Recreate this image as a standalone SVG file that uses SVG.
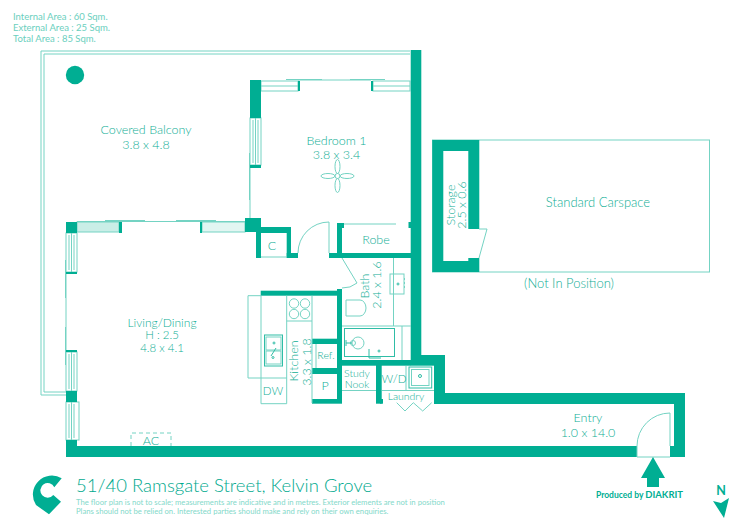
<svg xmlns="http://www.w3.org/2000/svg" width="750" height="530" viewBox="0 0 750 530">
<style>
.w{fill:#00ae93;stroke:none}
.l{fill:none;stroke:#74d3c3;stroke-width:1}
.g{fill:#fff;stroke:#74d3c3;stroke-width:1}
.d{fill:none;stroke:#2fbda6;stroke-width:1}
text{font-family:"Lato","Liberation Sans",sans-serif;font-weight:300;fill:#0fae95;text-anchor:middle;font-size:12.500px}
.s{font-size:9.500px;text-anchor:start;fill:#6bcfbe;font-weight:400}
.f{font-size:7.700px;text-anchor:start;fill:#84d9ca;font-weight:400}
.m{font-size:11.500px}
.n{font-size:11.500px}
</style>
<rect width="750" height="530" fill="#fff"/>
<g id="area-labels">
<text class="s" x="13" y="20">Internal Area : 60 Sqm.</text>
<text class="s" x="13" y="31">External Area : 25 Sqm.</text>
<text class="s" x="13" y="42">Total Area : 85 Sqm.</text>
</g>
<g id="balcony">
<path class="l" d="M410 51H41V395H66M410 54H44V392H66"/>
<circle class="w" cx="75" cy="75" r="9.200"/>
<text x="146" y="134">Covered Balcony</text>
<text x="146" y="149">3.8 x 4.8</text>
</g>
<g id="windows">
<path class="l" d="M298 80H371M77 221.500H245M66 274V350M250 168V218M286 79.500H322M350 79.500H385M105 220.500H145M176 220.500H216M65.500 260V298M65.500 327V365M249.500 153V200"/>
<rect class="g" x="261" y="81" width="37" height="10"/><rect class="g" x="373" y="81" width="37" height="10"/>
<rect class="g" x="250" y="118" width="11" height="47"/>
<rect x="77" y="222" width="42" height="10" fill="#c9eee7" stroke="#74d3c3"/>
<rect x="202" y="222" width="43" height="10" fill="#e2f6f2" stroke="#74d3c3"/>
<rect class="g" x="66" y="233" width="11" height="39"/><rect class="g" x="66" y="352" width="11" height="39"/><rect class="g" x="66" y="402" width="13" height="38"/>
<path class="l" d="M261 86H298M373 86H410M255.500 118V165M71.500 233V272M71.500 352V391M71.500 402V440M253 120V163M258 120V163M69 235V270M74 235V270M69 354V389M74 354V389M69 404V438M74 404V438"/>
</g>
<g id="walls">
<rect class="w" x="410.700" y="50" width="10.600" height="305"/>
<rect class="w" x="342" y="360" width="69" height="5.700"/>
<rect class="w" x="410.700" y="355" width="34.300" height="10.700"/>
<rect class="w" x="434" y="365" width="11" height="39"/>
<rect class="w" x="434" y="393" width="251" height="11"/>
<rect class="w" x="674" y="393" width="11" height="64"/>
<rect class="w" x="670" y="446" width="15" height="11"/>
<rect class="w" x="66" y="446" width="571" height="11"/>
<rect class="w" x="66" y="440" width="11" height="6"/>
<rect class="w" x="66" y="391" width="11" height="11"/>
<rect class="w" x="66" y="222" width="11" height="11"/>
<rect class="w" x="66" y="272" width="11" height="2"/>
<rect class="w" x="66" y="350" width="11" height="2"/>
<rect class="w" x="119" y="222" width="3" height="11"/>
<rect class="w" x="200" y="222" width="2" height="11"/>
<rect class="w" x="245" y="218" width="16" height="14"/>
<rect class="w" x="256" y="227" width="35" height="6"/>
<rect class="w" x="256" y="227" width="5" height="31"/>
<rect class="w" x="286.700" y="227" width="4.300" height="31"/>
<rect class="w" x="286.700" y="253" width="11.300" height="5"/>
<rect class="w" x="250" y="80" width="11" height="38"/>
<rect class="w" x="298" y="81" width="2" height="10"/>
<rect class="w" x="371" y="81" width="2" height="10"/>
<rect class="w" x="250" y="165" width="11" height="3"/>
<rect class="w" x="329" y="253" width="82" height="5"/>
<rect class="w" x="337" y="223" width="5" height="35"/>
<rect class="w" x="337" y="223" width="7" height="5"/>
<rect class="w" x="408.500" y="222" width="3" height="6"/>
<rect class="w" x="337" y="289" width="5" height="114.700"/>
<rect class="w" x="260.700" y="290.700" width="81" height="5"/>
<rect class="w" x="312" y="338.700" width="25" height="5.300"/>
<rect class="w" x="312" y="368" width="25" height="6"/>
<rect class="w" x="312" y="399" width="25" height="4.700"/>
<rect class="w" x="376" y="361" width="5.700" height="42.700"/>
<rect class="w" x="380" y="399" width="3" height="4.700"/>
</g>
<g id="robe">
<path class="l" d="M344 224H396"/>
<text x="376" y="244">Robe</text>
</g>
<g id="bedroom">
<text x="336.500" y="145">Bedroom 1</text>
<text x="336.500" y="159">3.8 x 3.4</text>
<circle class="l" cx="337.500" cy="176" r="2.500"/>
<ellipse class="l" cx="337.500" cy="166.500" rx="2.500" ry="7"/><ellipse class="l" cx="337.500" cy="185.500" rx="2.500" ry="7"/><ellipse class="l" cx="328" cy="176" rx="7" ry="2.500"/><ellipse class="l" cx="347" cy="176" rx="7" ry="2.500"/>
</g>
<g id="closet">
<path class="l" d="M261 257H287M329 222V253M329 222A31 31 0 0 0 298 253"/>
<text x="272" y="250">C</text>
</g>
<g id="bath">
<path class="l" d="M393.500 258V326M342 326H411M402 326V360M342 258L357 283A22 22 0 0 1 342 288"/>
<rect class="l" x="390" y="274" width="14" height="20"/>
<path class="d" d="M404 279H405M404 283H405M404 287H405"/>
<circle class="d" cx="398" cy="284" r="1"/>
<path class="l" d="M346 300H360A6 8 0 0 1 360 316H346Z"/>
<rect class="d" x="344.500" y="328.500" width="50" height="28"/>
<circle class="l" cx="358" cy="343" r="6"/><circle class="l" cx="353" cy="343" r="2.500"/>
<path class="d" d="M346 343H352M346 340V346M369 349V358M369 358H381"/>
<circle class="d" cx="379" cy="351" r="1"/>
<text transform="translate(369 286) rotate(-90)">Bath</text>
<text transform="translate(381 285) rotate(-90)">2.4 x 1.6</text>
</g>
<g id="kitchen">
<path class="l" d="M261 295.700H248V378H261M261 295.700V403.700H286.700V295.700M312 295.700V403M286.700 321H312M261 378H286.700M316 344V368"/>
<circle class="l" cx="294" cy="303.500" r="4.700"/><circle class="l" cx="305" cy="303.500" r="4.700"/><circle class="l" cx="294" cy="314" r="4.700"/><circle class="l" cx="305" cy="314" r="4.700"/>
<rect class="d" x="264.500" y="335" width="18" height="31"/>
<rect class="l" x="266" y="337" width="15" height="13"/><rect class="l" x="266" y="351" width="15" height="13"/>
<path class="d" d="M271 356L276 348"/><circle class="d" cx="273" cy="357.500" r="1"/><circle class="d" cx="274" cy="343" r="1"/>
<text transform="translate(298 361) rotate(-90)">Kitchen</text>
<text transform="translate(311 362) rotate(-90)">3.3 x 1.8</text>
<text class="n" x="273" y="395">DW</text>
<text x="326" y="359" style="font-size:10.500px">Ref.</text>
<text x="325" y="390">P</text>
</g>
<g id="study">
<path class="l" d="M342 390.500H376"/>
<text x="357" y="377" style="font-size:10.500px">Study</text>
<text x="357" y="388" style="font-size:10.500px">Nook</text>
</g>
<g id="laundry">
<path class="l" d="M382 390.500H434M406 366V390M396.700 402.700L405 411L413.300 402.700L422.700 411L431.700 402.700"/>
<rect class="d" x="409" y="367" width="22.700" height="21"/><rect class="l" x="411.500" y="369.500" width="17.500" height="16"/>
<circle class="d" cx="420" cy="376" r="1.500"/>
<text class="n" x="394" y="382.700">W/D</text>
<text x="406" y="400" style="font-size:10.500px">Laundry</text>
</g>
<g id="living">
<path class="l" d="M131 446V433H171V446" stroke-dasharray="4 3"/>
<text x="151" y="445">AC</text>
<text x="162" y="326.500" style="font-size:12px">Living/Dining</text>
<text class="m" x="162" y="339">H : 2.5</text>
<text class="m" x="162" y="351.500">4.8 x 4.1</text>
</g>
<g id="entry">
<path class="l" d="M670 413V446M670 413A33 33 0 0 0 637 446V457H670"/>
<text x="588" y="422">Entry</text>
<text x="588" y="437">1.0 x 14.0</text>
<path class="w" d="M653 457L665 478H659V487H647V478H641Z"/>
</g>
<g id="carspace">
<rect class="l" x="432.500" y="140" width="277" height="132"/>
<path class="w" d="M432.300 140H479.300V229H468.300V151H443.300V261H468.300V258H479.300V272H432.300Z"/>
<path class="l" d="M479 229H487L479 258"/>
<text transform="translate(455 205) rotate(-90)">Storage</text>
<text transform="translate(466 205) rotate(-90)">2.5 x 0.6</text>
<text x="598" y="207" style="font-size:13px">Standard Carspace</text>
<text x="569" y="288" style="font-size:13px">(Not In Position)</text>
</g>
<g id="footer">
<path class="w" d="M61.700 478.300A19 19 0 0 0 36 505L49 514.300L61 501.700L53.300 495A7.300 7.300 0 1 1 54.300 487.300Z"/>
<text x="76" y="492" style="text-anchor:start;font-size:18.500px;fill:#00a98e">51/40 Ramsgate Street, Kelvin Grove</text>
<text class="f" x="76" y="505">The floor plan is not to scale; measurements are indicative and in metres. Exterior elements are not in position</text>
<text class="f" x="76" y="514">Plans should not be relied on. Interested parties should make and rely on their own enquiries.</text>
<text x="596" y="498" style="text-anchor:start;font-size:8.500px;font-weight:700;fill:#00ae93">Produced by <tspan style="font-size:9.500px">DIAKRIT</tspan></text>
<text x="721" y="495" style="font-size:12.500px;font-weight:700;fill:#00ae93">N</text>
<path class="w" d="M713 501L721 503L729 498L724 518Z"/>
</g>
</svg>
